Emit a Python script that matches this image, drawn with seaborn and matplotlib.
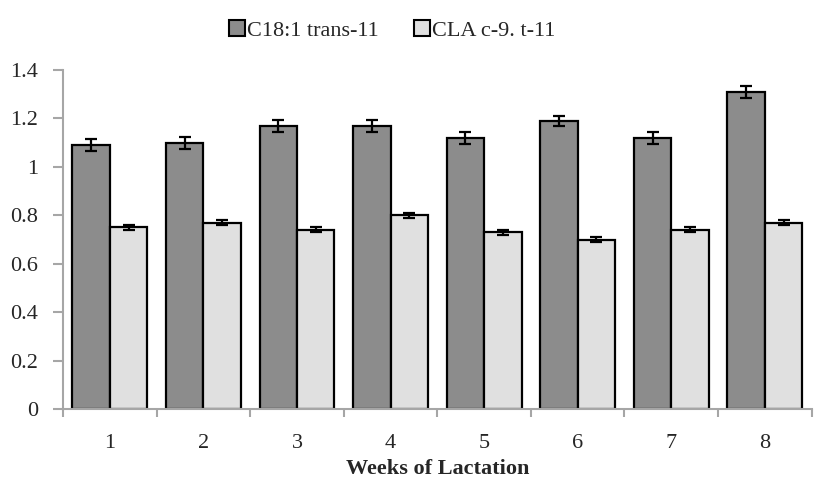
"""Barras agrupadas: acidos graxos por semana de lactacao."""

import matplotlib.pyplot as plt
import numpy as np
import pandas as pd
import seaborn as sns
from matplotlib.patches import Patch

semanas = ["1", "2", "3", "4", "5", "6", "7", "8"]
series = ["C18:1 trans-11", "CLA c-9. t-11"]
vaccenico = [1.09, 1.10, 1.17, 1.17, 1.12, 1.19, 1.12, 1.31]
vaccenico_erro = [0.025, 0.025, 0.025, 0.025, 0.025, 0.022, 0.025, 0.025]
cla = [0.75, 0.77, 0.74, 0.80, 0.73, 0.70, 0.74, 0.77]
cla_erro = [0.01, 0.01, 0.01, 0.01, 0.01, 0.01, 0.01, 0.01]
cores = ["#8c8c8c", "#e0e0e0"]

df = pd.DataFrame(
    {
        "semana": semanas * 2,
        "serie": [series[0]] * len(semanas) + [series[1]] * len(semanas),
        "valor": vaccenico + cla,
        "erro": vaccenico_erro + cla_erro,
    }
)

sns.set_style("white")
plt.rcParams["font.family"] = ["Liberation Serif", "DejaVu Serif"]

fig = plt.figure(figsize=(8.24, 4.83), dpi=100)
ax = fig.add_axes([0.0765, 0.153, 0.9085, 0.702])

sns.barplot(
    data=df,
    x="semana",
    y="valor",
    hue="serie",
    palette=cores,
    order=semanas,
    hue_order=series,
    width=0.8,
    edgecolor="black",
    linewidth=1.6,
    errorbar=None,
    legend=False,
    ax=ax,
)

# barras de erro nos centros das barras desenhadas
for container, serie in zip(ax.containers, series):
    sub = df[df["serie"] == serie]
    xs = [p.get_x() + p.get_width() / 2 for p in container.patches]
    tops = [p.get_height() for p in container.patches]
    ax.errorbar(
        xs,
        tops,
        yerr=sub["erro"].to_numpy(),
        fmt="none",
        ecolor="black",
        elinewidth=1.6,
        capsize=4,
        capthick=1.6,
    )

ax.set_ylim(0, 1.4)
ax.set_xlim(-0.5, len(semanas) - 0.5)
ax.set_yticks(np.arange(0, 1.41, 0.2))
ax.set_yticklabels(["0", "0.2", "0.4", "0.6", "0.8", "1", "1.2", "1.4"])

ax.set_xticks(np.arange(-0.5, len(semanas), 1.0))
ax.set_xticklabels([])
ax.set_xticks(np.arange(len(semanas)), minor=True)
ax.set_xticklabels(semanas, minor=True)
ax.tick_params(axis="x", which="major", bottom=True, length=6, width=1.5,
               color="#a6a6a6", direction="out")
ax.tick_params(axis="x", which="minor", bottom=True, length=0, pad=18, labelsize=16)
ax.tick_params(axis="y", left=True, length=7, width=1.5, color="#a6a6a6",
               direction="out", labelsize=16, pad=11)

for lado in ["top", "right"]:
    ax.spines[lado].set_visible(False)
for lado in ["left", "bottom"]:
    ax.spines[lado].set_color("#a6a6a6")
    ax.spines[lado].set_linewidth(1.5)

ax.set_xlabel("Weeks of Lactation", fontsize=16, fontweight="bold", labelpad=4)
ax.set_ylabel("")

alcas = [Patch(facecolor=c, edgecolor="black", linewidth=1.5) for c in cores]
fig.legend(
    alcas,
    series,
    loc="upper center",
    bbox_to_anchor=(0.476, 1.0),
    ncol=2,
    frameon=False,
    fontsize=16,
    handlelength=0.7,
    handleheight=0.7,
    handletextpad=0.1,
    columnspacing=1.6,
)

fig.savefig("out.png", dpi=100)
plt.close(fig)
